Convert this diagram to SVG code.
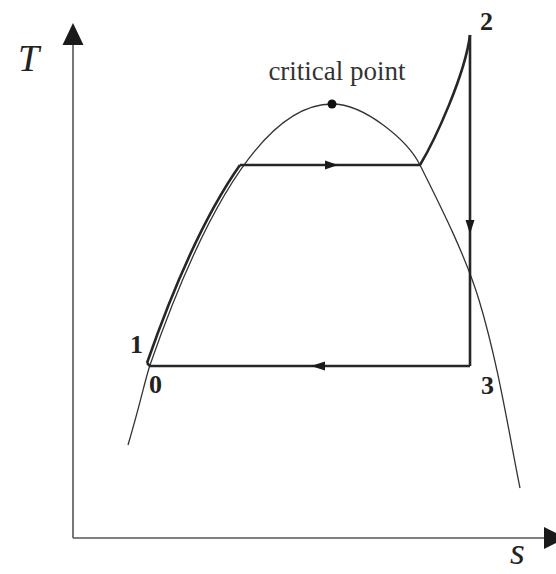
<svg xmlns="http://www.w3.org/2000/svg" width="556" height="574" viewBox="0 0 556 574">
  <style>
    .axis { stroke: #555; stroke-width: 1.6; fill: none; }
    .dome { stroke: #333; stroke-width: 1.3; fill: none; }
    .proc { stroke: #262626; stroke-width: 2.6; fill: none; stroke-linejoin: round; }
    .head { fill: #1a1a1a; stroke: none; }
    .ax-label { font-family: "Liberation Serif", "DejaVu Serif", serif; font-style: italic; font-size: 38px; fill: #222; }
    .pt { font-family: "Liberation Serif", "DejaVu Serif", serif; font-weight: bold; font-size: 26px; fill: #222; }
    .note { font-family: "Liberation Serif", "DejaVu Serif", serif; font-size: 27px; fill: #333; }
  </style>
  <rect width="556" height="574" fill="#fff"/>

  <g id="axes">
    <line class="axis" x1="73" y1="538" x2="73" y2="40"/>
    <polygon class="head" points="73,23 62.5,45 83.5,45"/>
    <line class="axis" x1="73" y1="538" x2="548" y2="538"/>
    <polygon class="head" points="544,527 544,549 566,538"/>
    <text class="ax-label" x="18" y="71">T</text>
    <text class="ax-label" x="510" y="564">s</text>
  </g>

  <g id="dome">
    <path class="dome" d="M128,445 C140,405 145,380 150,365 Q241,104 332,104 C365,104 408,141 420,165 C442,209 466,257 479,300 C498,363 508,428 520,488"/>
    <circle cx="332" cy="104" r="4.5" fill="#111"/>
    <text class="note" x="337" y="80" text-anchor="middle">critical point</text>
  </g>

  <g id="connectors">
    <path id="p1-top" class="proc" d="M147,363 Q192.5,232.5 240,165"/>
    <path id="evap" class="proc" d="M240,165 L420,165"/>
    <path id="superheat" class="proc" d="M420,165 C435,140 465,75 470,35"/>
    <path id="expansion" class="proc" d="M470,35 L470,366"/>
    <path id="condense" class="proc" d="M470,366 L150,366 L147,363"/>
    <polygon class="head" points="338,165 325,160.5 325,169.5"/>
    <polygon class="head" points="470,234 465.5,220 474.5,220"/>
    <polygon class="head" points="311,366 325,361.5 325,370.5"/>
  </g>

  <g id="node-1"><text class="pt" x="130" y="353">1</text></g>
  <g id="node-0"><text class="pt" x="149" y="393">0</text></g>
  <g id="node-2"><text class="pt" x="480" y="30">2</text></g>
  <g id="node-3"><text class="pt" x="481" y="394">3</text></g>
</svg>
